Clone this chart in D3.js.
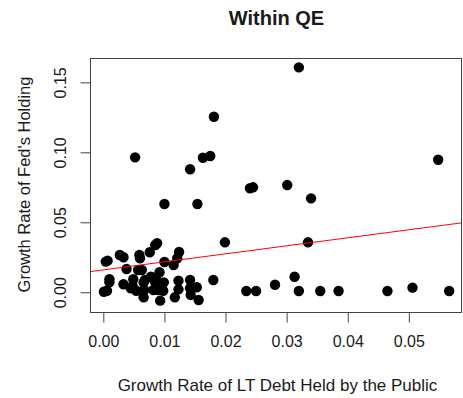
<script src="https://d3js.org/d3.v7.min.js"></script>
<style>
  body { margin: 0; background: #fff; }
  text { font-family: "Liberation Sans", Arial, Helvetica, sans-serif; fill: #1a1a1a; }
</style>
<body>
<svg id="vis"></svg>
<script>
  var width = 463
  var height = 398
  var margin = {top: 58, right: 1, bottom: 86, left: 90}

  // growth rate of LT debt held by the public (x) vs fed holding (y)
  var debtGrowth = [
    0.0181, 0.0052, 0.0142, 0.0163, 0.0175, 0.0100, 0.0154, 0.0320, 0.0548, 0.0240,
    0.0245, 0.0301, 0.0340, 0.0199, 0.0335, 0.0180, 0.0313, 0.0281, 0.0234, 0.0250,
    0.0320, 0.0355, 0.0385, 0.0465, 0.0506, 0.0566, 0.0085, 0.0088, 0.0076, 0.0124,
    0.0027, 0.0033, 0.0059, 0.0060, 0.0004, 0.0007, 0.0121, 0.0100, 0.0115, 0.0038,
    0.0057, 0.0063, 0.0092, 0.0078, 0.0010, 0.0010, 0.0049, 0.0066, 0.0068, 0.0085,
    0.0087, 0.0099, 0.0123, 0.0142, 0.0033, 0.0048, 0.0045, 0.0054, 0.0067, 0.0082,
    0.0090, 0.0098, 0.0123, 0.0153, 0.0001, 0.0006, 0.0066, 0.0093, 0.0117, 0.0143,
    0.0156, 0.0142
  ]
  var fedGrowth = [
    0.1254, 0.0964, 0.0879, 0.0961, 0.0974, 0.0631, 0.0631, 0.1607, 0.0947, 0.0743,
    0.0750, 0.0766, 0.0671, 0.0357, 0.0357, 0.0088, 0.0111, 0.0054, 0.0009, 0.0009,
    0.0009, 0.0009, 0.0009, 0.0009, 0.0033, 0.0009, 0.0338, 0.0350, 0.0286, 0.0288,
    0.0266, 0.0250, 0.0266, 0.0243, 0.0219, 0.0226, 0.0243, 0.0216, 0.0195, 0.0166,
    0.0159, 0.0159, 0.0143, 0.0111, 0.0093, 0.0071, 0.0093, 0.0071, 0.0088, 0.0071,
    0.0088, 0.0071, 0.0083, 0.0088, 0.0057, 0.0045, 0.0029, 0.0011, 0.0016, 0.0016,
    0.0016, 0.0011, 0.0021, 0.0036, 0.0004, 0.0011, -0.0036, -0.0060, -0.0036, -0.0019,
    -0.0055, 0.0029
  ]
  var xTicks = [0, 0.01, 0.02, 0.03, 0.04, 0.05]
  var yTicks = [0, 0.05, 0.10, 0.15]
  var fitIntercept = 0.0160
  var fitSlope = 0.573

  var xDomain = [-0.00218, 0.0587]
  var yDomain = [-0.0141, 0.1674]

  var svg = d3.select('#vis')
    .attr('width', width)
    .attr('height', height)

  var x = d3.scaleLinear().domain(xDomain).range([margin.left, width - margin.right])
  var y = d3.scaleLinear().domain(yDomain).range([height - margin.bottom, margin.top])

  var points = debtGrowth.map((d, i) => ({x: d, y: fedGrowth[i]}))

  svg.append('g')
    .selectAll('circle')
    .data(points)
    .enter().append('circle')
    .attr('cx', d => x(d.x))
    .attr('cy', d => y(d.y))
    .attr('r', 5.2)
    .attr('fill', '#000')

  // regression line, clipped to the plot box
  svg.append('clipPath').attr('id', 'box')
    .append('rect')
    .attr('x', margin.left).attr('y', margin.top)
    .attr('width', width - margin.left - margin.right)
    .attr('height', height - margin.top - margin.bottom)

  svg.append('line')
    .attr('clip-path', 'url(#box)')
    .attr('x1', x(xDomain[0]))
    .attr('y1', y(fitIntercept + fitSlope * xDomain[0]))
    .attr('x2', x(xDomain[1]))
    .attr('y2', y(fitIntercept + fitSlope * xDomain[1]))
    .attr('stroke', '#ff0000')
    .attr('stroke-width', 1)

  svg.append('rect')
    .attr('x', margin.left + 0.5).attr('y', margin.top + 0.5)
    .attr('width', width - margin.left - margin.right - 1)
    .attr('height', height - margin.top - margin.bottom)
    .attr('fill', 'none')
    .attr('stroke', '#444')

  var xAxis = svg.append('g')
    .attr('transform', 'translate(0,' + (height - margin.bottom + 0.5) + ')')
    .call(d3.axisBottom(x).tickValues(xTicks).tickFormat(d3.format('.2f')).tickSize(10).tickSizeOuter(0))
  xAxis.select('.domain').remove()
  xAxis.selectAll('line').attr('stroke', '#444')
  xAxis.selectAll('text')
    .attr('y', 23)
    .style('font-size', '16px')
    .style('font-family', '"Liberation Sans", Arial, sans-serif')
    .attr('fill', '#1a1a1a')

  var yAxis = svg.append('g')
    .attr('transform', 'translate(' + (margin.left + 0.5) + ',0)')
    .call(d3.axisLeft(y).tickValues(yTicks).tickFormat(d3.format('.2f')).tickSize(10).tickSizeOuter(0))
  yAxis.select('.domain').remove()
  yAxis.selectAll('line').attr('stroke', '#444')
  yAxis.selectAll('text')
    .attr('x', null).attr('dy', null)
    .attr('transform', 'translate(-25,0) rotate(-90)')
    .attr('text-anchor', 'middle')
    .style('font-size', '16px')
    .style('font-family', '"Liberation Sans", Arial, sans-serif')
    .attr('fill', '#1a1a1a')

  svg.append('text')
    .attr('x', 276.5)
    .attr('y', 25)
    .attr('text-anchor', 'middle')
    .style('font-size', '20px')
    .style('font-weight', 'bold')
    .text('Within QE')

  svg.append('text')
    .attr('x', 277.5)
    .attr('y', 391)
    .attr('text-anchor', 'middle')
    .style('font-size', '17px')
    .text('Growth Rate of LT Debt Held by the Public')

  svg.append('text')
    .attr('transform', 'translate(29.5,184.5) rotate(-90)')
    .attr('text-anchor', 'middle')
    .style('font-size', '16.5px')
    .text("Growth Rate of Fed's Holding")
</script>
</body>
